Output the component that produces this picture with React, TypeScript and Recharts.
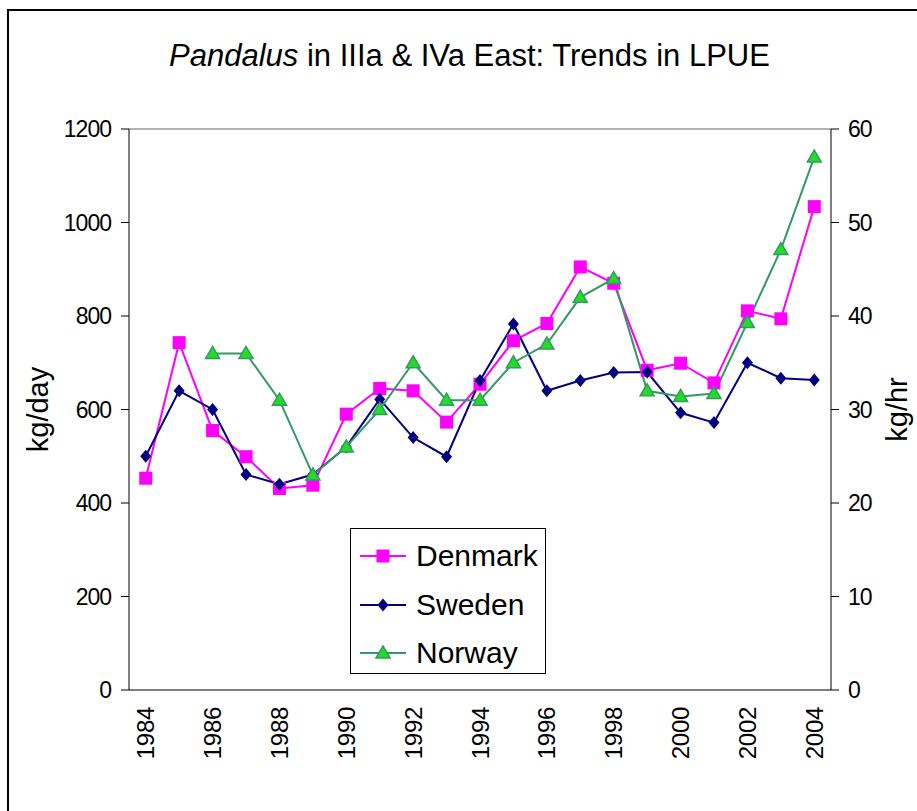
import React from 'react';
import { LineChart, Line, XAxis, YAxis, ReferenceLine } from 'recharts';

const years = [1984, 1985, 1986, 1987, 1988, 1989, 1990, 1991, 1992, 1993, 1994, 1995, 1996, 1997, 1998, 1999, 2000, 2001, 2002, 2003, 2004];
const denmark = [453, 743, 555, 499, 431, 438, 590, 645, 640, 573, 654, 747, 784, 905, 870, 684, 699, 657, 811, 794, 1034];
const sweden = [500, 640, 600, 461, 440, 461, 520, 622, 540, 499, 662, 783, 640, 662, 679, 680, 593, 572, 700, 667, 663];
const norway: (number | null)[] = [null, null, 36, 36, 31, 23, 26, 30, 35, 31, 31, 35, 37, 42, 44, 32, 31.4, 31.7, 39.3, 47.1, 57];
const leftTicks = [0, 200, 400, 600, 800, 1000, 1200];
const rightTicks = [0, 10, 20, 30, 40, 50, 60];
const labelYears = [1984, 1986, 1988, 1990, 1992, 1994, 1996, 1998, 2000, 2002, 2004];

const data = years.map((y, i) => ({ year: y, Denmark: denmark[i], Sweden: sweden[i], Norway: norway[i] }));
const boundaries = [...years.map((y) => y - 0.5), years[years.length - 1] + 0.5];
const xDomain = [boundaries[0], boundaries[boundaries.length - 1]];

const FONT = '"Liberation Sans", Arial, sans-serif';

const SquareDot = (props: any) => {
  const { cx, cy, index } = props;
  if (cx == null || cy == null) return <g key={`s${index}`} />;
  return <rect key={`s${index}`} x={cx - 6.5} y={cy - 6.5} width={13} height={13} fill="#FF00FF" />;
};
const DiamondDot = (props: any) => {
  const { cx, cy, index } = props;
  if (cx == null || cy == null) return <g key={`d${index}`} />;
  return <polygon key={`d${index}`} points={`${cx},${cy - 6.5} ${cx + 5.5},${cy} ${cx},${cy + 6.5} ${cx - 5.5},${cy}`} fill="#000080" />;
};
const TriDot = (props: any) => {
  const { cx, cy, index, value } = props;
  if (cx == null || cy == null || value == null) return <g key={`t${index}`} />;
  return <polygon key={`t${index}`} points={`${cx},${cy - 7} ${cx + 7},${cy + 5} ${cx - 7},${cy + 5}`} fill="#22DD22" stroke="#339966" strokeWidth={1.5} />;
};

const YearTick = (props: any) => {
  const { x, y, payload } = props;
  return (
    <text x={x} y={y + 7} transform={`rotate(-90, ${x}, ${y + 7})`} textAnchor="end" dy="0.36em" fontSize={24} letterSpacing={-0.3} fontFamily={FONT} fill="#000">
      {payload.value}
    </text>
  );
};

const LeftLabel = (props: any) => {
  const vb = props.viewBox;
  const x = vb.x + 38;
  const y = vb.y + vb.height / 2;
  return (
    <text x={x} y={y} transform={`rotate(-90, ${x}, ${y})`} textAnchor="middle" dy="0.36em" fontSize={29} fontFamily={FONT} fill="#000">
      kg/day
    </text>
  );
};
const RightLabel = (props: any) => {
  const vb = props.viewBox;
  const x = vb.x + 66;
  const y = vb.y + vb.height / 2;
  return (
    <text x={x} y={y} transform={`rotate(-90, ${x}, ${y})`} textAnchor="middle" dy="0.36em" fontSize={29} fontFamily={FONT} fill="#000">
      kg/hr
    </text>
  );
};

const legendItems = [
  { name: 'Denmark', color: '#FF00FF', kind: 'square' },
  { name: 'Sweden', color: '#000080', kind: 'diamond' },
  { name: 'Norway', color: '#339966', kind: 'tri' },
];

const LegendIcon = ({ kind, color }: { kind: string; color: string }) => (
  <svg width={48} height={20} style={{ display: 'block' }}>
    <line x1={0} y1={10} x2={46} y2={10} stroke={color} strokeWidth={2} />
    {kind === 'square' && <rect x={16.5} y={3.5} width={13} height={13} fill="#FF00FF" />}
    {kind === 'diamond' && <polygon points="23,3.5 28.5,10 23,16.5 17.5,10" fill="#000080" />}
    {kind === 'tri' && <polygon points="23,3 30,15 16,15" fill="#22DD22" stroke="#339966" strokeWidth={1.5} />}
  </svg>
);

export default function App() {
  return (
    <div style={{ position: 'absolute', left: 0, top: 0, width: 917, height: 811, overflow: 'hidden', background: '#fff', fontFamily: FONT }}>
      <div style={{ position: 'absolute', left: 7, top: 9, width: 1000, height: 1000, borderTop: '2px solid #000', borderLeft: '2px solid #000', boxSizing: 'border-box' }} />
      <div style={{ position: 'absolute', left: 0, top: 39, width: 939, textAlign: 'center', fontSize: 31, lineHeight: '34px', color: '#000', whiteSpace: 'nowrap' }}>
        <i>Pandalus</i> in IIIa &amp; IVa East: Trends in LPUE
      </div>
      <div style={{ position: 'absolute', left: 0, top: 0 }}>
        <LineChart width={917} height={811} data={data} margin={{ top: 129, right: 0, bottom: 0, left: 0 }}>
          <XAxis xAxisId="b" dataKey="year" type="number" domain={xDomain} ticks={boundaries} tick={false} tickSize={7} height={8} stroke="#000" allowDataOverflow interval={0} />
          <XAxis xAxisId="l" dataKey="year" type="number" domain={xDomain} ticks={labelYears} axisLine={false} tickLine={false} tickSize={0} height={113} tick={<YearTick />} interval={0} allowDataOverflow />
          <YAxis yAxisId="left" domain={[0, 1200]} ticks={leftTicks} width={129} tickSize={8} tickMargin={10} stroke="#000" interval={0}
            tick={{ fontSize: 23, letterSpacing: -1, fill: '#000', fontFamily: FONT }} label={<LeftLabel />} />
          <YAxis yAxisId="right" orientation="right" domain={[0, 60]} ticks={rightTicks} width={86} tickSize={8} tickMargin={9} stroke="#000" interval={0}
            tick={{ fontSize: 23, letterSpacing: -1, fill: '#000', fontFamily: FONT }} label={<RightLabel />} />
          <ReferenceLine yAxisId="left" xAxisId="b" y={1200} stroke="#999" strokeWidth={1.5} />
          <Line xAxisId="b" yAxisId="left" type="linear" dataKey="Denmark" stroke="#FF00FF" strokeWidth={2} dot={SquareDot} isAnimationActive={false} />
          <Line xAxisId="b" yAxisId="left" type="linear" dataKey="Sweden" stroke="#000080" strokeWidth={2} dot={DiamondDot} isAnimationActive={false} />
          <Line xAxisId="b" yAxisId="right" type="linear" dataKey="Norway" stroke="#339966" strokeWidth={2} dot={TriDot} isAnimationActive={false} />
        </LineChart>
      </div>
      <div style={{ position: 'absolute', left: 350, top: 528, width: 196, height: 146, border: '1px solid #000', boxSizing: 'border-box', background: '#fff' }}>
        {legendItems.map((it, i) => (
          <div key={it.name} style={{ position: 'absolute', left: 9, top: 10 + i * 48.5, height: 34, display: 'flex', alignItems: 'center' }}>
            <LegendIcon kind={it.kind} color={it.color} />
            <span style={{ marginLeft: 8, fontSize: 30, lineHeight: '34px', color: '#000' }}>{it.name}</span>
          </div>
        ))}
      </div>
    </div>
  );
}
